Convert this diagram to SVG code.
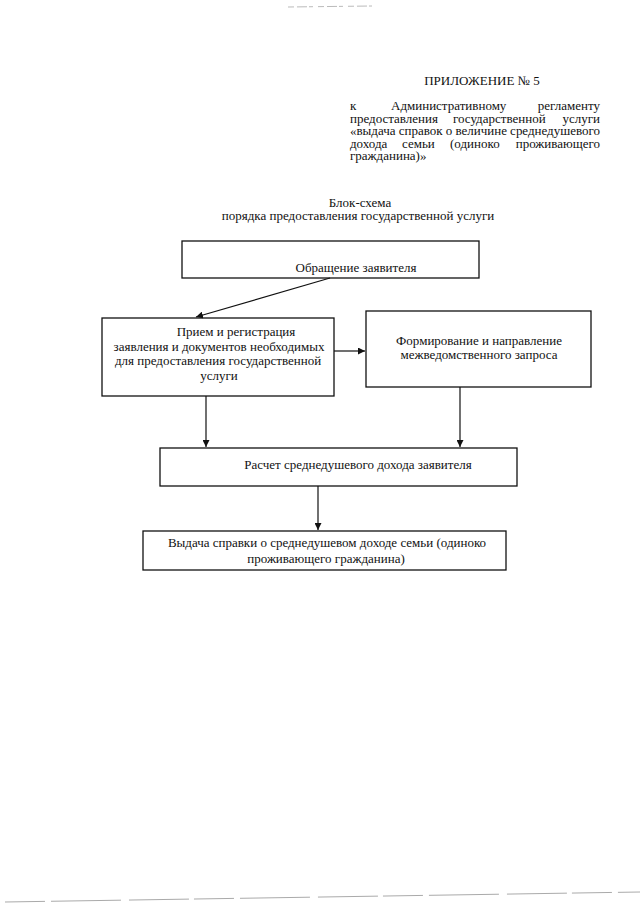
<svg xmlns="http://www.w3.org/2000/svg" width="640" height="905" viewBox="0 0 640 905">
<style>
text{font-family:"Liberation Serif","Times New Roman",serif;font-size:13px;fill:#111}
.box{fill:none;stroke:#111;stroke-width:1.3}
.c{text-anchor:middle}
.e{text-anchor:end}
.ln{stroke:#111;stroke-width:1.2;fill:none}
</style>
<defs>
<marker id="ah" viewBox="0 0 10 10" refX="10" refY="5" markerWidth="7" markerHeight="7" markerUnits="userSpaceOnUse" orient="auto">
<path d="M0,0 L10,5 L0,10 z" fill="#111"/>
</marker>
</defs>
<rect width="640" height="905" fill="#fff"/>
<g id="header">
<text x="482" y="85" class="c">ПРИЛОЖЕНИЕ № 5</text>
<text x="350" y="110">к</text>
<text x="391" y="110">Административному</text>
<text x="600" y="110" class="e">регламенту</text>
<text x="350" y="122.5">предоставления</text>
<text x="453" y="122.5">государственной</text>
<text x="600" y="122.5" class="e">услуги</text>
<text x="350" y="135" textLength="250" lengthAdjust="spacing">«выдача справок о величине среднедушевого</text>
<text x="350" y="147.5">дохода</text>
<text x="402" y="147.5">семьи</text>
<text x="450" y="147.5">(одиноко</text>
<text x="600" y="147.5" class="e">проживающего</text>
<text x="350" y="160">гражданина)»</text>
</g>
<g id="title">
<text x="360" y="207" class="c">Блок-схема</text>
<text x="358" y="219.5" class="c">порядка предоставления государственной услуги</text>
</g>
<g id="n1">
<rect class="box" x="182" y="241" width="297" height="37"/>
<text x="356" y="272" class="c">Обращение заявителя</text>
</g>
<g id="n2">
<rect class="box" x="102" y="318" width="232" height="78"/>
<text x="236" y="336" class="c">Прием и регистрация</text>
<text x="219" y="351" class="c">заявления и документов необходимых</text>
<text x="218" y="365" class="c">для предоставления государственной</text>
<text x="219" y="380" class="c">услуги</text>
</g>
<g id="n3">
<rect class="box" x="366" y="311" width="225" height="76"/>
<text x="479" y="345" class="c">Формирование и направление</text>
<text x="479" y="359" class="c">межведомственного запроса</text>
</g>
<g id="n4">
<rect class="box" x="160" y="448" width="357" height="38"/>
<text x="358" y="469" class="c">Расчет среднедушевого дохода заявителя</text>
</g>
<g id="n5">
<rect class="box" x="143" y="531" width="363" height="39"/>
<text x="327" y="547" class="c">Выдача справки о среднедушевом доходе семьи (одиноко</text>
<text x="326" y="563" class="c">проживающего гражданина)</text>
</g>
<g id="connectors">
<line class="ln" x1="330" y1="278" x2="196" y2="317" marker-end="url(#ah)"/>
<line class="ln" x1="334" y1="351" x2="365" y2="351" marker-end="url(#ah)"/>
<line class="ln" x1="206" y1="396" x2="206" y2="447" marker-end="url(#ah)"/>
<line class="ln" x1="460" y1="387" x2="460" y2="447" marker-end="url(#ah)"/>
<line class="ln" x1="318" y1="486" x2="318" y2="530" marker-end="url(#ah)"/>
</g>
<g id="scan">
<polyline points="288,7 372,6" fill="none" stroke="#bbb" stroke-width="1" stroke-dasharray="6,3,10,2,4,5"/>
<polyline points="5,902 640,892" fill="none" stroke="#aaa" stroke-width="1" stroke-dasharray="40,6,70,8,60,5"/>
</g>
</svg>
